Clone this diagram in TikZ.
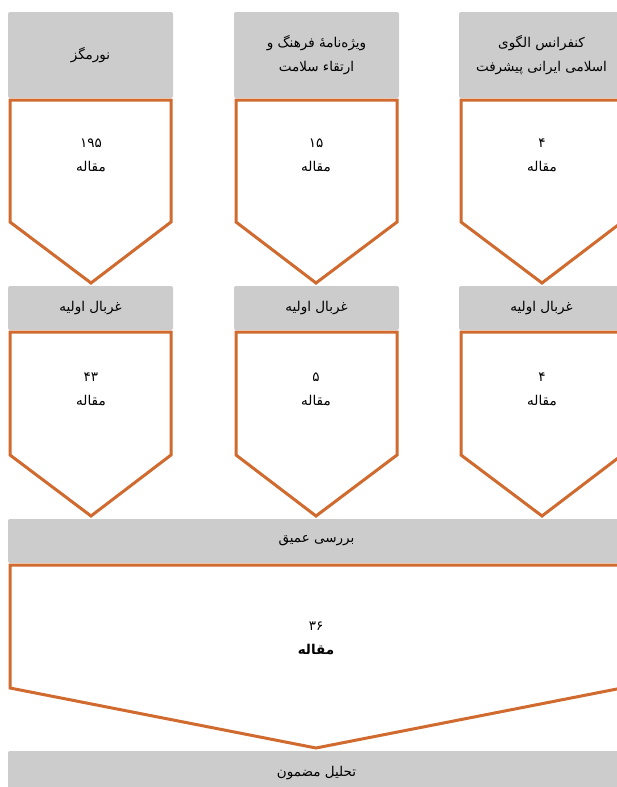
\documentclass[tikz,border=0pt]{standalone}
\usepackage{fontspec}
\newfontfamily\fa[Script=Arabic]{DejaVu Sans}
\TeXXeTstate=1
\definecolor{hdrgray}{HTML}{CCCCCC}
\definecolor{org}{HTML}{D06A2E}
\tikzset{
  hdrbox/.style={fill=hdrgray, rounded corners=2pt, inner sep=0pt, minimum width=165pt, align=center, font=\fa\fontsize{13.5}{24}\selectfont},
  pent/.style={draw=org, line width=3pt, fill=white},
  cnt/.style={align=center, inner sep=0pt, font=\fa\fontsize{13.5}{24}\selectfont}
}
\begin{document}
\begin{tikzpicture}[x=1pt,y=-1pt]
\useasboundingbox (0,0) rectangle (617,787);
\clip (0,0) rectangle (617,787);
% row 1 headers
\node[hdrbox, minimum height=86pt] (h1) at (90.5,55) {\beginR نورمگز\endR};
\node[hdrbox, minimum height=86pt] (h2) at (316.5,55) {\beginR ویژه‌نامهٔ فرهنگ و\endR\\\beginR ارتقاء سلامت\endR};
\node[hdrbox, minimum height=86pt] (h3) at (541.5,55) {\beginR کنفرانس الگوی\endR\\\beginR اسلامی ایرانی پیشرفت\endR};
% row 1 pentagons
\draw[pent] (10,100) -- (171,100) -- (171,222) -- (91,283) -- (10,222) -- cycle;
\draw[pent] (236,100) -- (397,100) -- (397,222) -- (316,283) -- (236,222) -- cycle;
\draw[pent] (461,100) -- (622,100) -- (622,222) -- (542,283) -- (461,222) -- cycle;
\node[cnt] (c1) at (91,155) {۱۹۵\\\beginR مقاله\endR};
\node[cnt] (c2) at (316,155) {۱۵\\\beginR مقاله\endR};
\node[cnt] (c3) at (542,155) {۴\\\beginR مقاله\endR};
% row 2 headers
\node[hdrbox, minimum height=44pt] (g1) at (90.5,308) {\beginR غربال اولیه\endR};
\node[hdrbox, minimum height=44pt] (g2) at (316.5,308) {\beginR غربال اولیه\endR};
\node[hdrbox, minimum height=44pt] (g3) at (541.5,308) {\beginR غربال اولیه\endR};
% row 2 pentagons
\draw[pent] (10,332) -- (171,332) -- (171,455) -- (91,516) -- (10,455) -- cycle;
\draw[pent] (236,332) -- (397,332) -- (397,455) -- (316,516) -- (236,455) -- cycle;
\draw[pent] (461,332) -- (622,332) -- (622,455) -- (542,516) -- (461,455) -- cycle;
\node[cnt] (d1) at (91,389) {۴۳\\\beginR مقاله\endR};
\node[cnt] (d2) at (316,389) {۵\\\beginR مقاله\endR};
\node[cnt] (d3) at (542,389) {۴\\\beginR مقاله\endR};
% row 3
\node[hdrbox, minimum width=617pt, minimum height=44pt] (deep) at (316.5,541) {\beginR بررسی عمیق\endR};
\draw[pent] (10,565) -- (622,565) -- (622,688) -- (316,748) -- (10,688) -- cycle;
\node[cnt] (e1) at (316,638) {۳۶\\\bfseries\beginR مقاله\endR};
% row 4
\node[hdrbox, minimum width=617pt, minimum height=44pt] (final) at (316.5,773) {\beginR تحلیل مضمون\endR};
\end{tikzpicture}
\end{document}
